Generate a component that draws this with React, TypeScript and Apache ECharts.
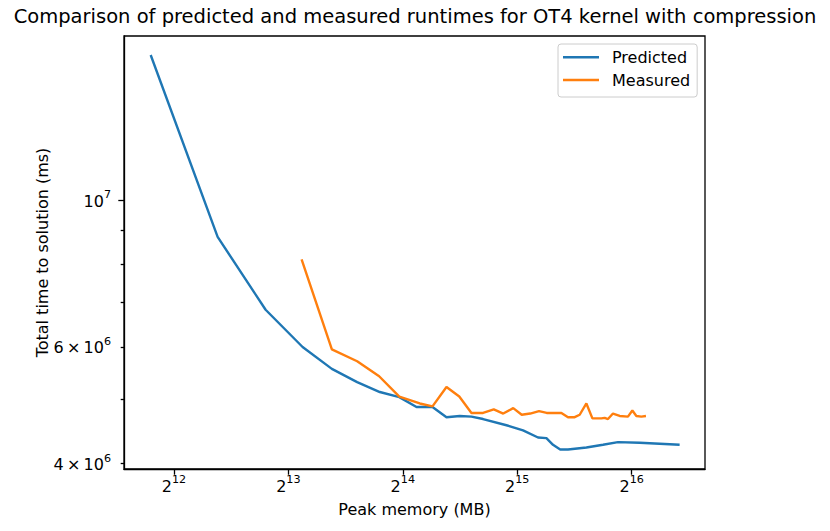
import React, { useEffect, useRef } from 'react';
import * as echarts from 'echarts';

// Peak memory (MB) and total time to solution (ms)
const predictedMemory = [3557, 5336, 7136, 8928, 10660, 12425, 14254, 16039, 17801, 19610, 21345, 23134, 24833, 26638, 30697, 33941, 37166, 39102, 40695, 42507, 44567, 49818, 55083, 60320, 68793, 87635];
const predictedTime = [16.57e6, 8.8e6, 6.83e6, 6.0e6, 5.56e6, 5.31e6, 5.13e6, 5.04e6, 4.87e6, 4.87e6, 4.7e6, 4.72e6, 4.71e6, 4.67e6, 4.57e6, 4.49e6, 4.38e6, 4.37e6, 4.27e6, 4.2e6, 4.2e6, 4.23e6, 4.27e6, 4.31e6, 4.3e6, 4.27e6];

const measuredMemory = [8874, 10660, 12425, 14195, 16039, 18160, 19610, 21345, 23064, 24833, 26638, 28426, 30106, 31983, 33672, 35452, 37391, 39174, 42818, 44567, 46409, 47837, 49818, 51665, 54555, 55657, 56780, 58524, 60948, 64081, 65814, 67424, 69501, 71466];
const measuredTime = [8.14e6, 5.95e6, 5.71e6, 5.42e6, 5.05e6, 4.93e6, 4.88e6, 5.22e6, 5.05e6, 4.77e6, 4.77e6, 4.83e6, 4.76e6, 4.85e6, 4.74e6, 4.76e6, 4.8e6, 4.77e6, 4.77e6, 4.7e6, 4.7e6, 4.74e6, 4.93e6, 4.68e6, 4.68e6, 4.69e6, 4.67e6, 4.76e6, 4.72e6, 4.71e6, 4.81e6, 4.72e6, 4.71e6, 4.72e6];

const xTickValues = [4096, 8192, 16384, 32768, 65536];
const yMajorTickValues = [1e7];
const yMinorTickValues = [4e6, 5e6, 6e6, 7e6, 8e6, 9e6];
const yLabelValues = [4e6, 6e6, 1e7];

const xRange = [3026, 102196];
const yRange = [3.925e6, 1.77e7];

const seriesNames = ['Predicted', 'Measured'];
const seriesColors = ['#1f77b4', '#ff7f0e'];

const FONT = 'DejaVu Sans';

export default function App() {
  const ref = useRef<HTMLDivElement>(null);

  useEffect(() => {
    if (!ref.current) return;
    const chart = echarts.init(ref.current, null, { renderer: 'svg' });

    const rich = {
      b: { fontFamily: FONT, fontSize: 16, color: '#000', lineHeight: 18, verticalAlign: 'bottom' },
      s: { fontFamily: FONT, fontSize: 11.2, color: '#000', lineHeight: 11, padding: [0, 0, 9, 0], verticalAlign: 'bottom' },
    };

    const xFormatter = (v: number) => `{b|2}{s|${Math.round(Math.log2(v))}}`;
    const yFormatter = (v: number) => {
      const e = Math.floor(Math.log10(v) + 1e-9);
      const m = Math.round(v / Math.pow(10, e));
      return m === 1 ? `{b|10}{s|${e}}` : `{b|${m}\u2009×\u200910}{s|${e}}`;
    };

    const axisLineStyle = { color: '#000', width: 1.3 };

    chart.setOption({
      animation: false,
      backgroundColor: '#fff',
      title: {
        text: 'Comparison of predicted and measured runtimes for OT4 kernel with compression',
        left: 'center',
        top: 6,
        padding: 0,
        textStyle: { fontFamily: FONT, fontSize: 19.5, fontWeight: 'normal', color: '#000' },
      },
      legend: {
        orient: 'vertical',
        left: 558,
        top: 44,
        icon: 'rect',
        itemWidth: 36,
        itemHeight: 2.4,
        itemGap: 6.7,
        padding: [5.3, 7, 9, 5],
        borderColor: '#cccccc',
        borderWidth: 1,
        borderRadius: 3,
        backgroundColor: '#fff',
        data: seriesNames,
        textStyle: { fontFamily: FONT, fontSize: 16, color: '#000', padding: [0, 0, 0, 8] },
      },
      grid: {
        left: 124,
        top: 36,
        right: 125,
        bottom: 62,
        show: true,
        borderColor: '#000',
        borderWidth: 1.3,
        backgroundColor: 'transparent',
      },
      xAxis: {
        type: 'log',
        logBase: 2,
        min: xRange[0],
        max: xRange[1],
        name: 'Peak memory (MB)',
        nameLocation: 'middle',
        nameGap: 32,
        nameMoveOverlap: false,
        nameTextStyle: { fontFamily: FONT, fontSize: 16, color: '#000' },
        axisLine: { show: true, lineStyle: axisLineStyle },
        axisTick: { show: true, length: 5.7, lineStyle: axisLineStyle, customValues: xTickValues },
        axisLabel: { show: true, margin: 7, formatter: xFormatter, rich, customValues: xTickValues },
        splitLine: { show: false },
        minorTick: { show: false },
        minorSplitLine: { show: false },
      },
      yAxis: [
        {
          type: 'log',
          logBase: 10,
          min: yRange[0],
          max: yRange[1],
          position: 'left',
          name: 'Total time to solution (ms)',
          nameLocation: 'middle',
          nameGap: 74,
          nameMoveOverlap: false,
          nameTextStyle: { fontFamily: FONT, fontSize: 16, color: '#000' },
          axisLine: { show: true, lineStyle: axisLineStyle },
          axisTick: { show: true, length: 5.7, lineStyle: axisLineStyle, customValues: yMajorTickValues },
          axisLabel: { show: true, margin: 13, formatter: yFormatter, rich, customValues: yLabelValues },
          splitLine: { show: false },
          minorTick: { show: false },
        },
        {
          type: 'log',
          logBase: 10,
          min: yRange[0],
          max: yRange[1],
          position: 'left',
          offset: 0,
          axisLine: { show: false },
          axisTick: { show: true, length: 3.3, lineStyle: axisLineStyle, customValues: yMinorTickValues },
          axisLabel: { show: false },
          splitLine: { show: false },
          minorTick: { show: false },
        },
      ],
      series: [
        {
          name: seriesNames[0],
          type: 'line',
          xAxisIndex: 0,
          yAxisIndex: 0,
          showSymbol: false,
          symbol: 'none',
          color: seriesColors[0],
          lineStyle: { color: seriesColors[0], width: 2.4 },
          data: predictedMemory.map((m, i) => [m, predictedTime[i]]),
        },
        {
          name: seriesNames[1],
          type: 'line',
          xAxisIndex: 0,
          yAxisIndex: 0,
          showSymbol: false,
          symbol: 'none',
          color: seriesColors[1],
          lineStyle: { color: seriesColors[1], width: 2.4 },
          data: measuredMemory.map((m, i) => [m, measuredTime[i]]),
        },
      ],
    });

    return () => chart.dispose();
  }, []);

  return <div ref={ref} style={{ position: 'fixed', left: 0, top: 0, width: 830, height: 531 }} />;
}
